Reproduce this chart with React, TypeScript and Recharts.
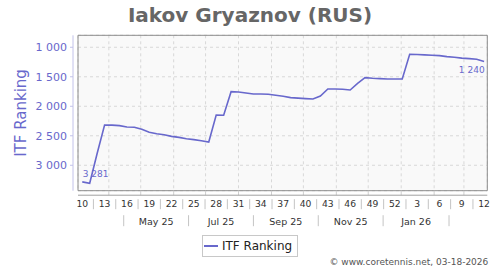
import React from 'react';
import { LineChart, Line, XAxis, YAxis, CartesianGrid, ReferenceArea, Legend, LabelList } from 'recharts';

// ---- data ----
const ranks = [
  3281, 3305, 2800, 2317, 2320, 2328, 2351, 2355, 2390, 2440, 2465, 2482, 2510, 2527, 2550, 2566, 2583, 2605,
  2148, 2153, 1752, 1758, 1775, 1792, 1792, 1797, 1814, 1831, 1854, 1862, 1870, 1876, 1826, 1707, 1707, 1712,
  1724, 1611, 1515, 1526, 1532, 1537, 1537, 1537, 1119, 1122, 1128, 1136, 1142, 1158, 1170, 1184, 1193, 1204, 1240,
];
const weekTickLabels = ['10', '13', '16', '19', '22', '25', '28', '31', '34', '37', '40', '43', '46', '49', '52', '3', '6', '9', '12'];
const monthLabels = ['May 25', 'Jul 25', 'Sep 25', 'Nov 25', 'Jan 26'];
const monthSeparatorDates = ['2025-04-15', '2025-06-15', '2025-08-15', '2025-10-15', '2025-12-15', '2026-02-15'];
const monthStartDates = [
  '2025-04-01', '2025-05-01', '2025-06-01', '2025-07-01', '2025-08-01', '2025-09-01',
  '2025-10-01', '2025-11-01', '2025-12-01', '2026-01-01', '2026-02-01', '2026-03-01',
];
const yTicks = [1000, 1500, 2000, 2500, 3000];
const seriesName = 'ITF Ranking';
const title = 'Iakov Gryaznov (RUS)';
const footer = '\u00A9 www.coretennis.net, 03-18-2026';

// ---- helpers ----
const BASE = Date.UTC(2025, 2, 7);
const DAY = 86400000;
const dayOf = (s: string) => {
  const [y, m, d] = s.split('-').map(Number);
  return (Date.UTC(y, m - 1, d) - BASE) / DAY;
};
const data = ranks.map((rank, i) => ({ day: i * 7, rank }));
const X_DOMAIN: [number, number] = [-4, 381];
const Y_DOMAIN: [number, number] = [797, 3431];

const weekTicks: number[] = [];
for (let k = 0; k < weekTickLabels.length * 2 - 1; k++) weekTicks.push(k * 10.5);

const sepDays = monthSeparatorDates.map(dayOf);
const monthTicks: number[] = [];
sepDays.forEach((d, i) => {
  monthTicks.push(d);
  if (i < monthLabels.length) monthTicks.push((d + sepDays[i + 1]) / 2);
});
const monthStartDays = monthStartDates.map(dayOf);

const PURPLE = '#6868cc';
const FONT = '"DejaVu Sans", sans-serif';

const fmt = (v: number) => {
  const s = String(v);
  return s.length > 3 ? s.slice(0, s.length - 3) + ' ' + s.slice(-3) : s;
};

const EmptyTick = () => <g />;

const WeekTick = (props: any) => {
  const { x, y, payload } = props;
  const k = Math.round(payload.value / 10.5);
  if (k % 2 === 1) {
    return <line x1={x} x2={x} y1={y + 4} y2={y + 14} stroke="#c4c4c4" strokeWidth={1} />;
  }
  return (
    <text x={x} y={y + 12} textAnchor="middle" fontSize={9.2} fill="#333" fontFamily={FONT}>
      {weekTickLabels[k / 2]}
    </text>
  );
};

const MonthTick = (props: any) => {
  const { x, y, index } = props;
  if (index % 2 === 0) {
    return <line x1={x} x2={x} y1={y + 2} y2={y + 13} stroke="#c4c4c4" strokeWidth={1} />;
  }
  return (
    <text x={x} y={y + 11.3} textAnchor="middle" fontSize={9.5} fill="#333" fontFamily={FONT}>
      {monthLabels[(index - 1) / 2]}
    </text>
  );
};

const YTick = (props: any) => {
  const { x, y, payload } = props;
  return (
    <text x={x} y={y + 4} textAnchor="end" fontSize={11} fill={PURPLE} fontFamily={FONT}>
      {fmt(payload.value)}
    </text>
  );
};

const YLabel = (props: any) => {
  const vb = props.viewBox || { x: 0, y: 35, width: 73, height: 155 };
  const cx = vb.x + 21;
  const cy = vb.y + vb.height / 2;
  return (
    <text
      x={cx}
      y={cy}
      transform={`rotate(-90 ${cx} ${cy})`}
      textAnchor="middle"
      dominantBaseline="central"
      fontSize={15}
      fill={PURPLE}
      fontFamily={FONT}
    >
      {seriesName}
    </text>
  );
};

const PointLabel = (props: any) => {
  const { x, y, value, index } = props;
  if (index === 0) {
    return (
      <text x={x + 0.5} y={y - 5} textAnchor="start" fontSize={9} fill={PURPLE} fontFamily={FONT}>
        {fmt(value)}
      </text>
    );
  }
  if (index === ranks.length - 1) {
    return (
      <text x={x + 0.5} y={y + 12} textAnchor="end" fontSize={9} fill={PURPLE} fontFamily={FONT}>
        {fmt(value)}
      </text>
    );
  }
  return null;
};

const LegendContent = (props: any) => {
  const item = (props.payload && props.payload[0]) || { color: PURPLE, value: seriesName };
  return (
    <div
      style={{
        boxSizing: 'border-box',
        width: 96,
        height: 22,
        border: '1px solid #c8c8c8',
        background: '#fff',
        display: 'flex',
        alignItems: 'center',
        paddingLeft: 1,
        fontFamily: FONT,
        fontSize: 12,
        color: '#222',
        whiteSpace: 'nowrap',
      }}
    >
      <svg width={14} height={4} style={{ marginRight: 4 }}>
        <line x1={0} x2={14} y1={2} y2={2} stroke={item.color || PURPLE} strokeWidth={2} />
      </svg>
      <span>{item.value}</span>
    </div>
  );
};

export default function App() {
  return (
    <div style={{ position: 'absolute', left: 0, top: 0, width: 500, height: 270, background: '#fff' }}>
      <LineChart
        width={500}
        height={270}
        data={data}
        margin={{ top: 35.3, right: 12.7, bottom: 38.8, left: 0 }}
        style={{ fontFamily: FONT }}
      >
        <YAxis yAxisId="a_gap" type="number" domain={Y_DOMAIN} reversed width={5} tick={false} axisLine={false} tickLine={false} />
        <YAxis
          yAxisId="b_main"
          type="number"
          domain={Y_DOMAIN}
          reversed
          width={73}
          ticks={yTicks}
          interval={0}
          tick={<YTick />}
          tickSize={3}
          tickMargin={3}
          axisLine={{ stroke: '#c2c2ea' }}
          tickLine={{ stroke: '#c2c2ea' }}
          label={YLabel}
          allowDataOverflow
        />
        <XAxis
          xAxisId="a_gapX"
          type="number"
          dataKey="day"
          domain={X_DOMAIN}
          ticks={monthStartDays}
          interval={0}
          height={4.5}
          tick={<EmptyTick />}
          tickSize={4.5}
          axisLine={false}
          tickLine={{ stroke: '#d0d0d0' }}
          allowDataOverflow
        />
        <XAxis
          xAxisId="b_weeks"
          type="number"
          dataKey="day"
          domain={X_DOMAIN}
          ticks={weekTicks}
          interval={0}
          height={18}
          tick={<WeekTick />}
          tickSize={0}
          tickMargin={0}
          axisLine={{ stroke: '#a0a0a0' }}
          tickLine={false}
          allowDataOverflow
        />
        <XAxis
          xAxisId="c_months"
          type="number"
          dataKey="day"
          domain={X_DOMAIN}
          ticks={monthTicks}
          interval={0}
          height={18}
          tick={<MonthTick />}
          tickSize={0}
          tickMargin={0}
          axisLine={false}
          tickLine={false}
          allowDataOverflow
        />
        <CartesianGrid xAxisId="a_gapX" yAxisId="b_main" stroke="#d8d8d8" strokeDasharray="3 3" fill="#f9f9f9" />
        <ReferenceArea
          xAxisId="b_weeks"
          yAxisId="b_main"
          x1={X_DOMAIN[0]}
          x2={X_DOMAIN[1]}
          y1={Y_DOMAIN[0]}
          y2={Y_DOMAIN[1]}
          fill="none"
          stroke="#8c8c8c"
          strokeWidth={1}
          ifOverflow="visible"
        />
        <Line
          xAxisId="b_weeks"
          yAxisId="b_main"
          dataKey="rank"
          name={seriesName}
          type="linear"
          stroke={PURPLE}
          strokeWidth={1.6}
          dot={false}
          activeDot={false}
          isAnimationActive={false}
        >
          <LabelList dataKey="rank" content={PointLabel} />
        </Line>
        <Legend
          verticalAlign="middle"
          align="center"
          layout="horizontal"
          wrapperStyle={{ position: 'absolute', left: 202, top: 235, width: 'auto', height: 'auto' }}
          content={LegendContent}
        />
      </LineChart>
      <svg width={500} height={270} style={{ position: 'absolute', left: 0, top: 0, pointerEvents: 'none' }}>
        <text x={250} y={21.7} textAnchor="middle" fontSize={20} fontWeight="bold" fill="#666" fontFamily={FONT}>
          {title}
        </text>
        <text x={488.3} y={265.3} textAnchor="end" fontSize={9} fill="#555" fontFamily={FONT}>
          {footer}
        </text>
      </svg>
    </div>
  );
}
